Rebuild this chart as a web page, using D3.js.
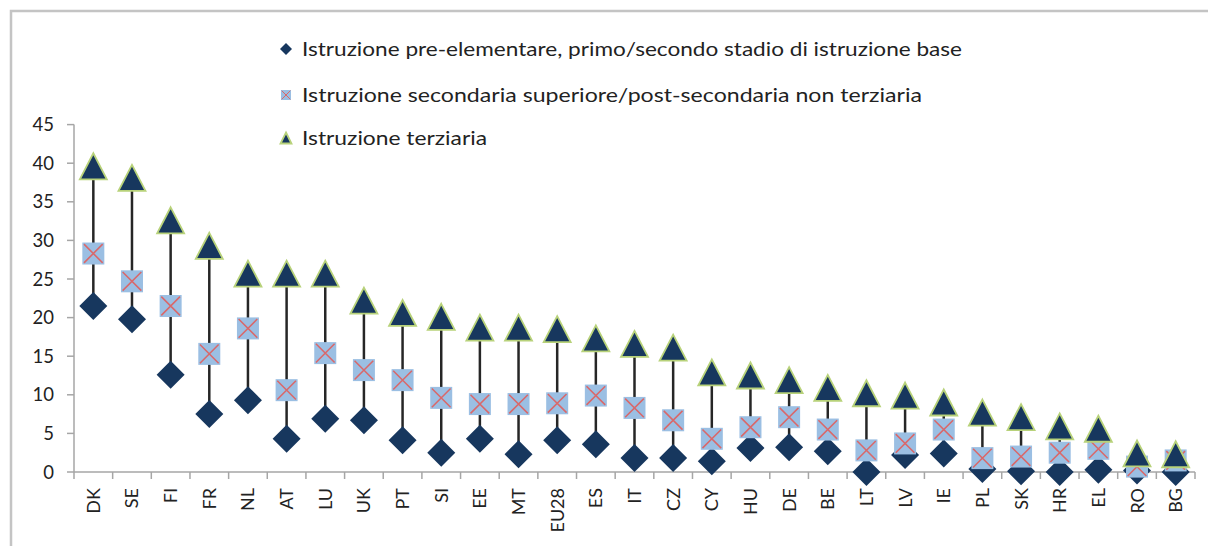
<!DOCTYPE html>
<html>
<head>
<meta charset="utf-8">
<script src="https://cdn.jsdelivr.net/npm/d3@7"></script>
<style>
  html, body { margin: 0; padding: 0; background: #fff; }
  svg { display: block; }
  text { font-family: Lato, "Open Sans", sans-serif; fill: #222; }
</style>
</head>
<body>
<svg id="chart" width="1208" height="546"></svg>
<script>
// Paesi ordinati per quota con istruzione terziaria
const countries = ["DK","SE","FI","FR","NL","AT","LU","UK","PT","SI","EE","MT","EU28","ES","IT","CZ","CY","HU","DE","BE","LT","LV","IE","PL","SK","HR","EL","RO","BG"];

// Istruzione pre-elementare, primo/secondo stadio di istruzione base
const basic = [21.5,19.8,12.6,7.5,9.3,4.3,6.9,6.7,4.1,2.5,4.3,2.3,4.1,3.6,1.8,1.8,1.4,3.1,3.2,2.7,0.0,2.2,2.4,0.4,0.1,0.0,0.3,0.2,0.0];
// Istruzione secondaria superiore/post-secondaria non terziaria
const upperSecondary = [28.3,24.7,21.5,15.3,18.6,10.6,15.4,13.2,11.9,9.6,8.8,8.8,8.9,9.9,8.3,6.7,4.3,5.8,7.1,5.5,2.8,3.7,5.5,1.8,2.0,2.5,3.0,0.7,1.5];
// Istruzione terziaria
const tertiary = [39.6,38.1,32.6,29.3,25.7,25.7,25.7,22.2,20.6,20.1,18.7,18.7,18.5,17.3,16.6,16.1,12.9,12.5,11.9,10.9,10.2,9.9,9.0,7.7,7.1,5.9,5.6,2.4,2.3];

const yTicks = [0,5,10,15,20,25,30,35,40,45];

const legendLabels = [
  "Istruzione pre-elementare, primo/secondo stadio di istruzione base",
  "Istruzione secondaria superiore/post-secondaria non terziaria",
  "Istruzione terziaria"
];

const NAVY = "#17375e";
const LIGHT_BLUE = "#9bbfe3";
const CROSS = "#d9686a";
const GREEN_EDGE = "#b8d27a";
const AXIS = "#a6a6a6";

const svg = d3.select("#chart");

// Cornice del grafico
svg.append("rect")
  .attr("x", 11).attr("y", 11)
  .attr("width", 1240).attr("height", 600)
  .attr("fill", "none").attr("stroke", "#c4c4c4").attr("stroke-width", 2.5);

const x = d3.scaleBand().domain(countries).range([74, 1195]).padding(0);
const y = d3.scaleLinear().domain([0, 45]).range([472, 124.6]);

// Asse Y
svg.append("line")
  .attr("x1", 74).attr("x2", 74)
  .attr("y1", y(45)).attr("y2", y(0))
  .attr("stroke", AXIS).attr("stroke-width", 1.5);
svg.selectAll(".ytick").data(yTicks).join("line")
  .attr("x1", 67).attr("x2", 74)
  .attr("y1", d => y(d)).attr("y2", d => y(d))
  .attr("stroke", AXIS).attr("stroke-width", 1.5);
svg.selectAll(".ylab").data(yTicks).join("text")
  .attr("x", 54).attr("y", d => y(d))
  .attr("dy", "0.36em")
  .attr("text-anchor", "end")
  .attr("font-size", 18.5)
  .text(d => d);

// Asse X
const bounds = countries.map(c => x(c)).concat([x.range()[1]]);
svg.append("line")
  .attr("x1", 74).attr("x2", 1195)
  .attr("y1", y(0)).attr("y2", y(0))
  .attr("stroke", AXIS).attr("stroke-width", 1.5);
svg.selectAll(".xtick").data(bounds).join("line")
  .attr("x1", d => d).attr("x2", d => d)
  .attr("y1", y(0)).attr("y2", y(0) + 7)
  .attr("stroke", AXIS).attr("stroke-width", 1.5);
svg.selectAll(".xlab").data(countries).join("text")
  .attr("transform", d => `translate(${x(d) + x.bandwidth() / 2 + 6.5},488) rotate(-90)`)
  .attr("text-anchor", "end")
  .attr("font-size", 18)
  .text(d => d);

const cx = i => x(countries[i]) + x.bandwidth() / 2;

// Linee max-min
svg.selectAll(".hilo").data(countries).join("line")
  .attr("x1", (d, i) => cx(i)).attr("x2", (d, i) => cx(i))
  .attr("y1", (d, i) => y(Math.max(basic[i], upperSecondary[i], tertiary[i])))
  .attr("y2", (d, i) => y(Math.min(basic[i], upperSecondary[i], tertiary[i])))
  .attr("stroke", "#262626").attr("stroke-width", 2.5);

// Forme dei marcatori
const diamondPath = s => `M0,${-s}L${s},0L0,${s}L${-s},0Z`;
const trianglePath = (w, h) => `M0,${-h / 2}L${w / 2},${h / 2}L${-w / 2},${h / 2}Z`;

function drawDiamond(g, s) {
  g.append("path").attr("d", diamondPath(s)).attr("fill", NAVY);
}
function drawSquare(g, s) {
  g.append("rect").attr("x", -s).attr("y", -s).attr("width", 2 * s).attr("height", 2 * s)
    .attr("fill", LIGHT_BLUE);
  const c = s * 0.85;
  g.append("path").attr("d", `M${-c},${-c}L${c},${c}M${c},${-c}L${-c},${c}`)
    .attr("stroke", CROSS).attr("stroke-width", Math.max(1, s / 7)).attr("fill", "none");
}
function drawTriangle(g, w, h) {
  g.append("path").attr("d", trianglePath(w, h))
    .attr("fill", NAVY).attr("stroke", GREEN_EDGE).attr("stroke-width", 1.8)
    .attr("stroke-linejoin", "miter");
}

// Serie: base, secondaria, terziaria
svg.selectAll(".basic").data(basic).join("g")
  .attr("transform", (d, i) => `translate(${cx(i)},${y(d)})`)
  .each(function () { drawDiamond(d3.select(this), 14); });

svg.selectAll(".upper").data(upperSecondary).join("g")
  .attr("transform", (d, i) => `translate(${cx(i)},${y(d)})`)
  .each(function () { drawSquare(d3.select(this), 11); });

svg.selectAll(".tert").data(tertiary).join("g")
  .attr("transform", (d, i) => `translate(${cx(i)},${y(d)})`)
  .each(function () { drawTriangle(d3.select(this), 27, 26); });

// Legenda
const legendY = [49, 95, 138];
const legendLen = [660, 620, 185];
const leg = svg.append("g");
legendLabels.forEach((label, i) => {
  const g = leg.append("g").attr("transform", `translate(286,${legendY[i]})`);
  if (i === 0) drawDiamond(g, 6);
  if (i === 1) drawSquare(g, 5);
  if (i === 2) drawTriangle(g, 11, 11);
  leg.append("text")
    .attr("x", 302).attr("y", legendY[i])
    .attr("dy", "0.36em")
    .attr("font-size", 19)
    .attr("textLength", legendLen[i])
    .attr("lengthAdjust", "spacingAndGlyphs")
    .text(label);
});
</script>
</body>
</html>
